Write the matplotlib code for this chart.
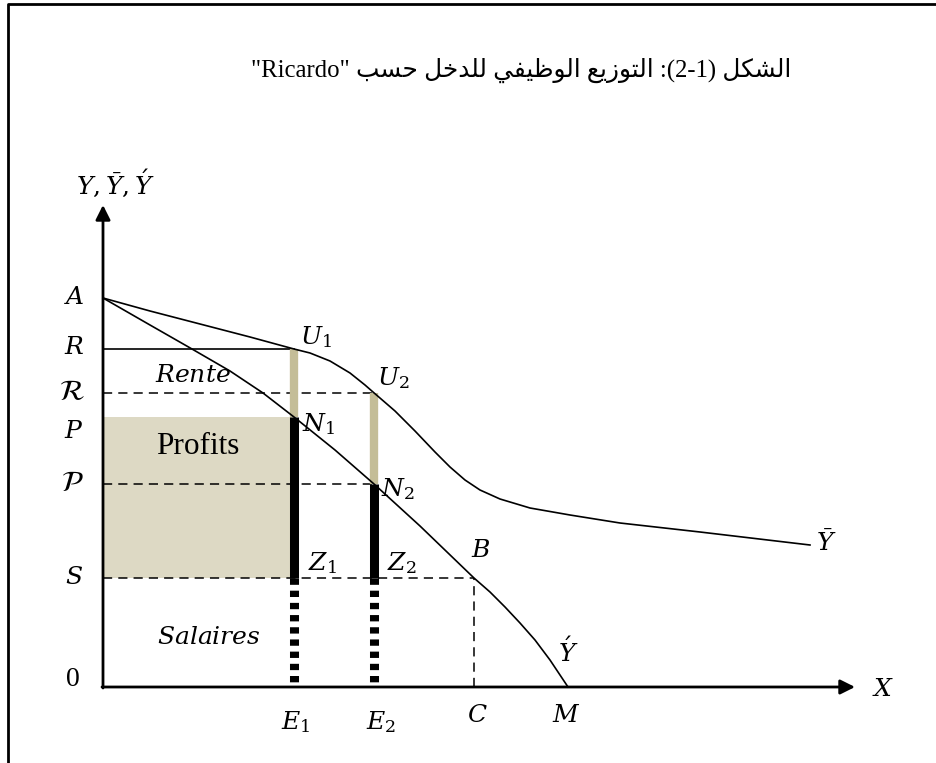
import matplotlib
matplotlib.use("Agg")
import matplotlib.pyplot as plt
from matplotlib.patches import Rectangle
from matplotlib.lines import Line2D

plt.rcParams["mathtext.fontset"] = "dejavuserif"
plt.rcParams["font.family"] = ["Liberation Serif", "DejaVu Sans"]

# levels on the vertical axis (origin = point 0)
y_A = 389
y_R = 338
y_Rc = 294     # script R
y_P = 270
y_Pc = 203     # script P
y_S = 109
y_top = 482

# positions on the horizontal axis
x_E1 = 191
x_E2 = 271
x_C = 371
x_M = 465
x_end = 752

# Y-bar curve : A -> U1 -> U2 -> flat tail
ybar_x = [0, 47, 97, 147, 191, 207, 227, 247, 262, 270, 292, 312, 332, 347,
          362, 377, 397, 427, 467, 517, 597, 707]
ybar_y = [389, 376, 363, 350, 338, 334, 326, 314, 302, 295, 276, 256, 235, 220,
          207, 197, 188, 179, 172, 164, 155, 142]

# Y-acute curve : A -> N1 -> N2 -> B -> M
yac_x = [0, 47, 89, 127, 160, 191, 232, 271, 317, 371, 387, 402, 417, 432, 447, 465]
yac_y = [389, 362, 338, 316, 294, 270, 237, 203, 161, 109, 95, 80, 64, 47, 27, 0]

TAN = "#C4BD97"
TAN_LIGHT = "#DDD9C4"

# arabic title: letters -> (isolated, final, initial, medial)
FORMS = {
    "ا": ("\uFE8D", "\uFE8E", None, None),
    "ب": ("\uFE8F", "\uFE90", "\uFE91", "\uFE92"),
    "ت": ("\uFE95", "\uFE96", "\uFE97", "\uFE98"),
    "ح": ("\uFEA1", "\uFEA2", "\uFEA3", "\uFEA4"),
    "خ": ("\uFEA5", "\uFEA6", "\uFEA7", "\uFEA8"),
    "د": ("\uFEA9", "\uFEAA", None, None),
    "ز": ("\uFEAF", "\uFEB0", None, None),
    "س": ("\uFEB1", "\uFEB2", "\uFEB3", "\uFEB4"),
    "ش": ("\uFEB5", "\uFEB6", "\uFEB7", "\uFEB8"),
    "ظ": ("\uFEC5", "\uFEC6", "\uFEC7", "\uFEC8"),
    "ع": ("\uFEC9", "\uFECA", "\uFECB", "\uFECC"),
    "ف": ("\uFED1", "\uFED2", "\uFED3", "\uFED4"),
    "ك": ("\uFED9", "\uFEDA", "\uFEDB", "\uFEDC"),
    "ل": ("\uFEDD", "\uFEDE", "\uFEDF", "\uFEE0"),
    "و": ("\uFEED", "\uFEEE", None, None),
    "ي": ("\uFEF1", "\uFEF2", "\uFEF3", "\uFEF4"),
}


def shape(word):
    # pick joined forms and put the word in visual (left to right) order
    out = []
    for i, ch in enumerate(word):
        iso, fin, ini, med = FORMS[ch]
        prev_j = i > 0 and FORMS[word[i - 1]][2] is not None
        next_j = i < len(word) - 1 and ini is not None
        if prev_j and next_j:
            out.append(med)
        elif prev_j:
            out.append(fin)
        elif next_j:
            out.append(ini)
        else:
            out.append(iso)
    return "".join(reversed(out))


title = ('"Ricardo" ' + shape("حسب") + " " + shape("للدخل") + " " + shape("الوظيفي")
         + " " + shape("التوزيع") + " :(2-1) " + shape("الشكل"))

fig = plt.figure(figsize=(9.36, 7.63), dpi=100)
ax = fig.add_axes([0, 0, 1, 1])
ax.set_xlim(-103, 833)
ax.set_ylim(-76, 687)
ax.axis("off")

# frame around the figure
fig.add_artist(Line2D([8 / 936, 8 / 936, 1], [0, 1 - 4 / 763, 1 - 4 / 763],
                      transform=fig.transFigure, color="k", lw=2))

# profits area
ax.add_patch(Rectangle((0, y_S), x_E1, y_P - y_S, facecolor=TAN_LIGHT, edgecolor="none", zorder=1))

# horizontal guides
ax.plot([0, x_E1], [y_R, y_R], color="k", lw=1.2, zorder=2)
dash = dict(color="k", lw=1.1, ls=(0, (6, 4)), zorder=2)
ax.plot([0, x_E2], [y_Rc, y_Rc], **dash)
ax.plot([0, x_E2], [y_Pc, y_Pc], **dash)
ax.plot([0, x_C], [y_S, y_S], **dash)
ax.plot([x_C, x_C], [0, y_S], **dash)

# vertical bars
ax.plot([x_E1, x_E1], [y_P, y_R], color=TAN, lw=6, solid_capstyle="butt", zorder=3)
ax.plot([x_E2, x_E2], [y_Pc, y_Rc], color=TAN, lw=6, solid_capstyle="butt", zorder=3)
ax.plot([x_E1, x_E1], [y_S, y_P], color="k", lw=6.5, solid_capstyle="butt", zorder=3)
ax.plot([x_E2, x_E2], [y_S, y_Pc], color="k", lw=6.5, solid_capstyle="butt", zorder=3)
dots = dict(color="k", lw=6.5, ls=(0, (0.7, 0.65)), dash_capstyle="butt", zorder=3)
ax.plot([x_E1, x_E1], [y_S, 0], **dots)
ax.plot([x_E2, x_E2], [y_S, 0], **dots)

# curves
ax.plot(ybar_x, ybar_y, color="k", lw=1.2, zorder=4, solid_joinstyle="round")
ax.plot(yac_x, yac_y, color="k", lw=1.2, zorder=4, solid_joinstyle="round")

# axes with arrows
arr = dict(arrowstyle="-|>", color="k", lw=2, mutation_scale=22, shrinkA=0, shrinkB=0)
ax.annotate("", xy=(0, y_top), xytext=(0, -1), arrowprops=arr, zorder=5)
ax.annotate("", xy=(x_end, 0), xytext=(-1, 0), arrowprops=arr, zorder=5)

fs = 18
labels = [
    (12, 504, r"$Y,\bar{Y},\acute{Y}$"),
    (-29, y_A, r"$A$"), (-29, y_R + 1, r"$R$"),
    (-29, 255, r"$P$"), (-29, y_S, r"$S$"),
    (213, 350, r"$U_1$"), (290, 309, r"$U_2$"), (216, 263, r"$N_1$"), (295, 198, r"$N_2$"),
    (219, 124, r"$Z_1$"), (299, 124, r"$Z_2$"), (378, 136, r"$B$"),
    (465, 35, r"$\acute{Y}$"), (723, 144, r"$\bar{Y}$"), (780, -3, r"$X$"),
    (193, -35, r"$E_1$"), (278, -35, r"$E_2$"), (374, -29, r"$C$"), (463, -29, r"$M$"),
    (90, 311, r"$Rente$"), (106, 49, r"$Salaires$"),
]
for x, y, s in labels:
    ax.text(x, y, s, fontsize=fs, ha="center", va="center", zorder=6)

for y, s in [(y_Rc, r"$\mathcal{R}$"), (y_Pc, r"$\mathcal{P}$")]:
    ax.text(-31, y, s, fontsize=21, ha="center", va="center", math_fontfamily="stix")

ax.text(-30, 7, "0", fontsize=20, ha="center", va="center")
ax.text(95, 240, "Profits", fontsize=22.5, ha="center", va="center", zorder=6)
ax.text(418, 617, title, fontsize=17.8, ha="center", va="center")

fig.savefig("out.png", dpi=100)
